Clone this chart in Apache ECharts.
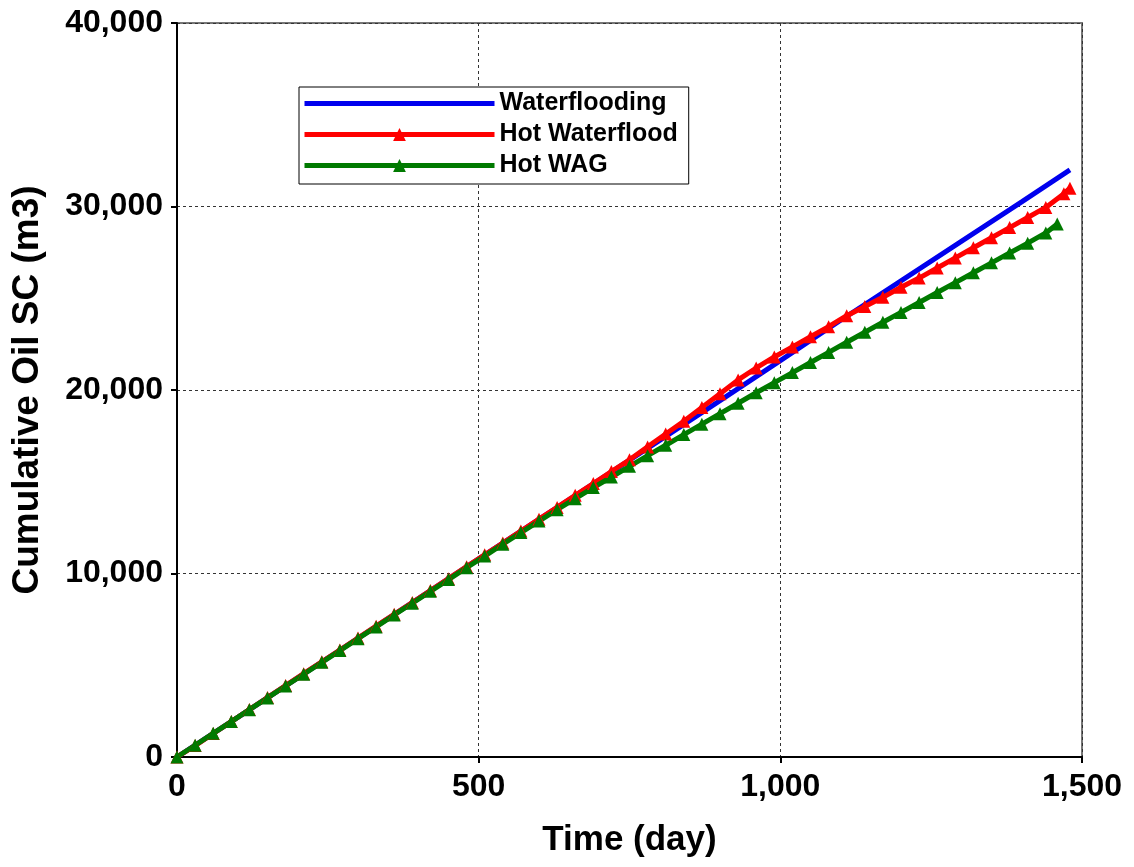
<!DOCTYPE html>
<html>
<head>
<meta charset="utf-8">
<script src="https://cdn.jsdelivr.net/npm/echarts@6/dist/echarts.min.js"></script>
<style>
	html, body { margin: 0; padding: 0; background: #fff; }
	#main_chart { width: 1134px; height: 867px; }
</style>
</head>
<body>
<div id="main_chart"></div>
<script>
// values (day, m3)
var seriesNames = ["Waterflooding", "Hot Waterflood", "Hot WAG"];

var waterDays = [0, 100, 200, 300, 400, 500, 600, 700, 800, 900, 1000, 1100, 1200, 1300, 1400, 1480];
var waterOil = [0, 2150, 4310, 6470, 8630, 10800, 12950, 15100, 17250, 19420, 21600, 23800, 25950, 28100, 30250, 32000];

var hotDays = [0, 30, 60, 90, 120, 150, 180, 210, 240, 270, 300, 330, 360, 390, 420, 450, 480, 510, 540, 570,
	600, 630, 660, 690, 720, 750, 780, 810, 840, 870, 900, 930, 960, 990, 1020, 1050, 1080, 1110, 1140, 1170,
	1200, 1230, 1260, 1290, 1320, 1350, 1380, 1410, 1440, 1470, 1480];
var hotOil = [0, 620, 1280, 1930, 2590, 3240, 3890, 4540, 5190, 5830, 6480, 7130, 7780, 8420, 9070, 9720, 10370, 11020, 11660, 12310,
	12960, 13600, 14260, 14900, 15560, 16200, 16900, 17600, 18300, 19050, 19800, 20550, 21200, 21800, 22350, 22900, 23450, 24050, 24550, 25050,
	25600, 26100, 26650, 27200, 27750, 28300, 28850, 29400, 29950, 30700, 31000];

var wagDays = [0, 30, 60, 90, 120, 150, 180, 210, 240, 270, 300, 330, 360, 390, 420, 450, 480, 510, 540, 570,
	600, 630, 660, 690, 720, 750, 780, 810, 840, 870, 900, 930, 960, 990, 1020, 1050, 1080, 1110, 1140, 1170,
	1200, 1230, 1260, 1290, 1320, 1350, 1380, 1410, 1440, 1459];
var wagOil = [0, 640, 1290, 1930, 2580, 3220, 3870, 4510, 5160, 5800, 6450, 7090, 7740, 8380, 9030, 9670, 10320, 10950, 11600, 12230,
	12860, 13480, 14080, 14680, 15260, 15840, 16420, 16990, 17570, 18140, 18710, 19280, 19850, 20400, 20950, 21500, 22050, 22600, 23150, 23690,
	24230, 24770, 25310, 25850, 26390, 26930, 27470, 28000, 28560, 29050];

var xTicks = { min: 0, max: 1500, interval: 500 };
var yTicks = { min: 0, max: 40000, interval: 10000 };

function pairUp(xs, ys) {
	var out = [];
	for (var i = 0; i < xs.length; i++) {
		out.push([xs[i], ys[i]]);
	}
	return out;
}

function commaFmt(v) {
	return String(v).replace(/\B(?=(\d{3})+(?!\d))/g, ",");
}

function makeChart() {
	var chart = echarts.init(document.getElementById('main_chart'));
	var fontFam = '"Liberation Sans", Arial, sans-serif';

	var gridLine = {
		show: true,
		lineStyle: { color: '#333', width: 1, type: [3, 3] }
	};

	var option = {
		animation: false,
		backgroundColor: '#fff',
		grid: {
			left: 177,
			top: 23,
			right: 52,
			bottom: 110,
			show: true,
			borderColor: '#777',
			borderWidth: 2
		},
		legend: {
			orient: 'vertical',
			left: 299,
			top: 87,
			padding: [4, 11, 6, 3],
			itemGap: 6,
			itemWidth: 190,
			itemHeight: 16,
			borderColor: '#000',
			borderWidth: 1,
			backgroundColor: '#fff',
			lineStyle: { width: 5 },
			textStyle: { fontFamily: fontFam, fontWeight: 'bold', fontSize: 25, color: '#000' },
			data: [
				{ name: seriesNames[0], itemStyle: { opacity: 0 } },
				seriesNames[1],
				seriesNames[2]
			]
		},
		xAxis: {
			type: 'value',
			min: xTicks.min,
			max: xTicks.max,
			interval: xTicks.interval,
			name: 'Time (day)',
			nameLocation: 'middle',
			nameGap: 66,
			nameTextStyle: { fontFamily: fontFam, fontWeight: 'bold', fontSize: 35, color: '#000' },
			axisLine: { show: true, onZero: false, lineStyle: { color: '#000', width: 2 } },
			axisTick: { show: true, length: 6, lineStyle: { color: '#000', width: 2 } },
			axisLabel: { margin: 14, fontFamily: fontFam, fontWeight: 'bold', fontSize: 32, color: '#000', formatter: commaFmt },
			splitLine: gridLine
		},
		yAxis: {
			type: 'value',
			min: yTicks.min,
			max: yTicks.max,
			interval: yTicks.interval,
			name: 'Cumulative Oil SC (m3)',
			nameLocation: 'middle',
			nameGap: 131,
			nameTextStyle: { fontFamily: fontFam, fontWeight: 'bold', fontSize: 37, color: '#000' },
			axisLine: { show: true, onZero: false, lineStyle: { color: '#000', width: 2 } },
			axisTick: { show: true, length: 6, lineStyle: { color: '#000', width: 2 } },
			axisLabel: { margin: 14, fontFamily: fontFam, fontWeight: 'bold', fontSize: 32, color: '#000', formatter: commaFmt },
			splitLine: gridLine
		},
		series: [{
			name: seriesNames[0],
			type: 'line',
			symbol: 'none',
			color: '#0000ee',
			lineStyle: { width: 5, color: '#0000ee' },
			data: pairUp(waterDays, waterOil)
		}, {
			name: seriesNames[1],
			type: 'line',
			symbol: 'triangle',
			symbolSize: 13,
			color: '#ff0000',
			itemStyle: { color: '#ff0000' },
			lineStyle: { width: 5, color: '#ff0000' },
			data: pairUp(hotDays, hotOil)
		}, {
			name: seriesNames[2],
			type: 'line',
			symbol: 'triangle',
			symbolSize: 13,
			color: '#007a00',
			itemStyle: { color: '#007a00' },
			lineStyle: { width: 5, color: '#007a00' },
			data: pairUp(wagDays, wagOil)
		}]
	};

	chart.setOption(option);
}

makeChart();
</script>
</body>
</html>
